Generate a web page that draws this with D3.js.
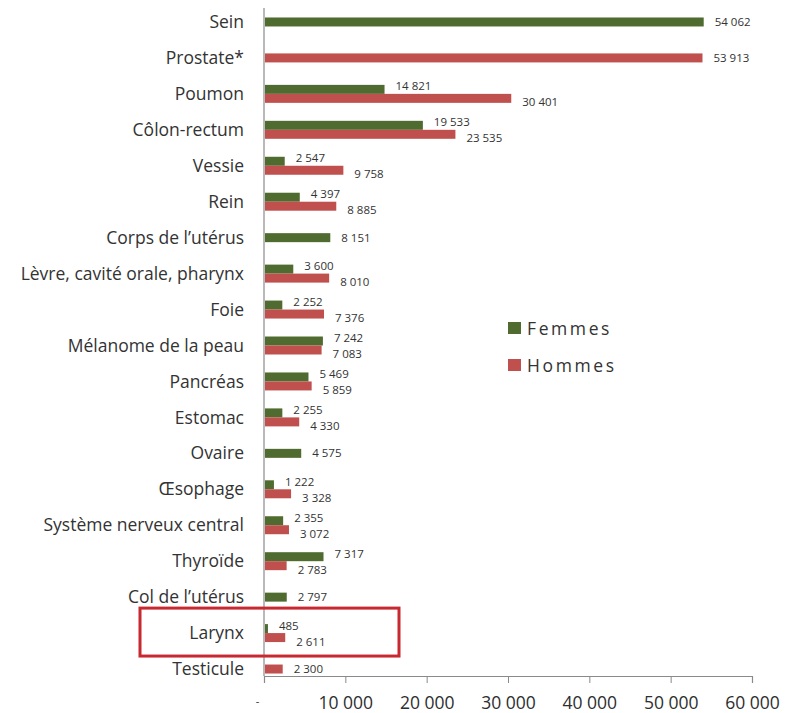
<!DOCTYPE html>
<html>
<head>
<meta charset="utf-8">
<script src="https://cdnjs.cloudflare.com/ajax/libs/d3/7.8.5/d3.min.js"></script>
<style>
  body { margin: 0; background: #fff; }
  svg { display: block; font-family: "Open Sans", "DejaVu Sans", sans-serif; }
</style>
</head>
<body>
<svg id="chart" width="786" height="713"></svg>
<script>
// categories, top to bottom
const categories = [
  "Sein", "Prostate*", "Poumon", "Côlon-rectum", "Vessie", "Rein",
  "Corps de l’utérus", "Lèvre, cavité orale, pharynx", "Foie",
  "Mélanome de la peau", "Pancréas", "Estomac", "Ovaire", "Œsophage",
  "Système nerveux central", "Thyroïde", "Col de l’utérus", "Larynx", "Testicule"
];
// null = no bar for that sex
const femmes = [54062, null, 14821, 19533, 2547, 4397, 8151, 3600, 2252,
  7242, 5469, 2255, 4575, 1222, 2355, 7317, 2797, 485, null];
const hommes = [null, 53913, 30401, 23535, 9758, 8885, null, 8010, 7376,
  7083, 5859, 4330, null, 3328, 3072, 2783, null, 2611, 2300];
const xTicks = [0, 10000, 20000, 30000, 40000, 50000, 60000];
const seriesNames = ["Femmes", "Hommes"];
const highlighted = "Larynx";

const colors = { Femmes: "#4f6b2f", Hommes: "#c0504d" };

const svg = d3.select("#chart");
const x0 = 264, x1 = 752, axisY = 676;

const fr = d3.formatLocale({ decimal: ",", thousands: " ", grouping: [3], currency: ["", " €"] });
const fmt = fr.format(",d");

const x = d3.scaleLinear().domain([0, 60000]).range([x0, x1]);
const y = d3.scaleBand().domain(categories).range([4, 687]);
const barH = y.bandwidth() * 0.25;

// vertical axis line
svg.append("line")
  .attr("x1", x0).attr("x2", x0).attr("y1", 8).attr("y2", axisY)
  .attr("stroke", "#8a8a8a").attr("stroke-width", 1.2);

// x axis
const xAxis = svg.append("g")
  .attr("transform", `translate(0,${axisY})`)
  .call(d3.axisBottom(x).tickValues(xTicks).tickSize(7).tickPadding(14)
    .tickFormat(d => d === 0 ? "-" : fmt(d)));
xAxis.select(".domain").attr("stroke", "#8a8a8a").attr("stroke-width", 1.2);
xAxis.selectAll(".tick line").attr("stroke", "#8a8a8a");
xAxis.selectAll("text")
  .attr("font-size", 17.5).attr("fill", "#2e2e2e")
  .attr("font-family", "'Open Sans', sans-serif");
xAxis.selectAll(".tick").filter(d => d === 0).select("text").attr("dx", -7).attr("font-size", 11);

// category labels
svg.append("g").selectAll("text")
  .data(categories).join("text")
  .attr("x", x0 - 20)
  .attr("y", d => y(d) + y.bandwidth() / 2)
  .attr("dy", "0.35em")
  .attr("text-anchor", "end")
  .attr("font-size", 17.5)
  .attr("fill", "#333")
  .text(d => d);

// bars
const rows = categories.map((c, i) => ({ cat: c, f: femmes[i], h: hommes[i] }));
const bars = [];
rows.forEach(r => {
  const both = r.f != null && r.h != null;
  const mid = y(r.cat) + y.bandwidth() / 2;
  if (r.f != null) bars.push({ cat: r.cat, s: "Femmes", v: r.f, y: both ? mid - barH : mid - barH / 2, single: !both });
  if (r.h != null) bars.push({ cat: r.cat, s: "Hommes", v: r.h, y: both ? mid : mid - barH / 2, single: !both });
});

svg.append("g").selectAll("rect")
  .data(bars).join("rect")
  .attr("x", x0 + 1)
  .attr("y", d => d.y)
  .attr("width", d => x(d.v) - x0 - 1)
  .attr("height", barH)
  .attr("fill", d => colors[d.s]);

// value labels
svg.append("g").selectAll("text")
  .data(bars).join("text")
  .attr("x", d => x(d.v) + 11)
  .attr("y", d => d.y + barH / 2 + (d.single ? 0 : (d.s === "Femmes" ? -3 : 4)))
  .attr("dy", "0.35em")
  .attr("font-size", 11.5)
  .attr("fill", "#333")
  .text(d => fmt(d.v));

// legend
const legend = svg.append("g");
seriesNames.forEach((s, i) => {
  const ly = 322 + i * 37;
  legend.append("rect").attr("x", 508).attr("y", ly).attr("width", 13).attr("height", 12)
    .attr("fill", colors[s]);
  legend.append("text").attr("x", 527).attr("y", ly + 6).attr("dy", "0.38em")
    .attr("font-size", 17.5).attr("letter-spacing", 2.6).attr("fill", "#333")
    .text(s);
});

// highlight box around Larynx
svg.append("rect")
  .attr("x", 140)
  .attr("y", y(highlighted) - 7)
  .attr("width", 259)
  .attr("height", y.bandwidth() + 12)
  .attr("fill", "none")
  .attr("stroke", "#c8282f")
  .attr("stroke-width", 3);
</script>
</body>
</html>
